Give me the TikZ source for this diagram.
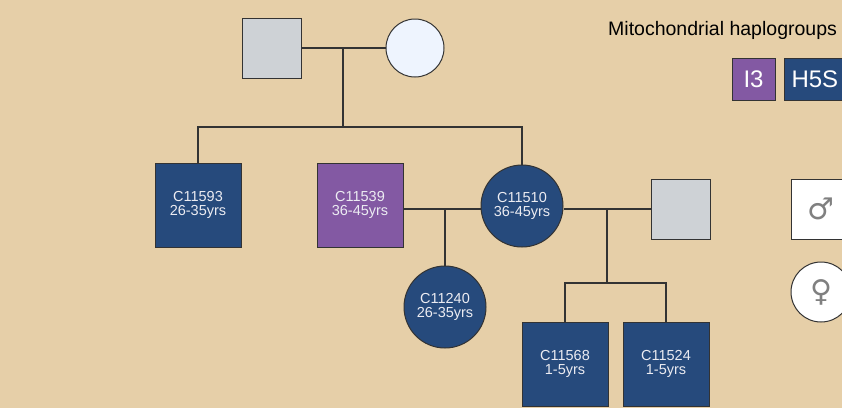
\documentclass[tikz,border=0pt]{standalone}
\usepackage{fontspec}
\setmainfont{Liberation Sans}
\newfontfamily\symfont{DejaVu Sans}
\usetikzlibrary{positioning}

\definecolor{paper}{HTML}{E6CFA8}
\definecolor{navy}{HTML}{264A7C}
\definecolor{plum}{HTML}{8359A3}
\definecolor{ash}{HTML}{CED2D6}
\definecolor{pale}{HTML}{EEF4FE}
\definecolor{edge}{HTML}{333333}
\definecolor{label}{HTML}{ECECF2}

\begin{document}
\begin{tikzpicture}[
  x=1pt, y=-1pt,
  male/.style={draw=edge,line width=1pt,minimum width=59pt,minimum height=60pt,inner sep=0pt},
  female/.style={draw=edge,line width=1pt,circle,minimum size=58pt,inner sep=0pt},
  kid/.style={draw=edge,line width=1pt,minimum width=86pt,minimum height=84pt,inner sep=0pt,
    fill=navy,text=label,align=center,font=\fontsize{14.5}{13.5}\selectfont},
  kidf/.style={kid,circle,minimum size=82pt},
  link/.style={draw=edge,line width=1.3pt},
  hbox/.style={draw=edge,line width=1pt,minimum width=43pt,minimum height=42pt,inner sep=0pt,
    text=white,font=\fontsize{24}{24}\selectfont}
]
\useasboundingbox (0,0) rectangle (842,408);
\fill[paper] (0,0) rectangle (842,408);
\clip (0,0) rectangle (842,408);

% first generation
\node[male,fill=ash] (m1) at (271.5,48) {};
\node[female,fill=pale] (f1) at (415,48) {};

% second generation
\node[kid] (c11593) at (198,205) {C11593\\26-35yrs};
\node[kid,fill=plum] (c11539) at (360,205) {C11539\\36-45yrs};
\node[kidf] (c11510) at (522,206) {C11510\\36-45yrs};
\node[male,fill=ash] (m2) at (680.5,209) {};

% third generation
\node[kidf] (c11240) at (445,307) {C11240\\26-35yrs};
\node[kid] (c11568) at (565,364) {C11568\\1-5yrs};
\node[kid] (c11524) at (666,364) {C11524\\1-5yrs};

% lines
\coordinate (u1) at (343,48);
\coordinate (sib1) at (343,127);
\draw[link] (m1) -- (f1);
\draw[link] (u1) -- (sib1);
\draw[link] (c11593.north) |- (sib1) -| (c11510.north);

\coordinate (u2) at (445,209);
\draw[link] (c11539.east |- u2) -- (c11510.west |- u2);
\draw[link] (u2) -- (c11240.north);

\coordinate (u3) at (607,209);
\coordinate (sib3) at (607,283);
\draw[link] (c11510.east |- u3) -- (m2.west);
\draw[link] (u3) -- (sib3);
\draw[link] (c11568.north) |- (sib3) -| (c11524.north);

% legend
\node[anchor=base west,inner sep=0pt,font=\fontsize{19.5}{20}\selectfont] (title) at (608,35) {Mitochondrial haplogroups};
\node[hbox,fill=plum] (i3) at (753.5,79) {I3};
\node[hbox,fill=navy,anchor=west,minimum width=70pt,text width=60pt,align=left] (h5s) at (784,79) {\hspace{2pt}H5S};
\node[male,fill=white,anchor=west] (msym) at (791,209) {\symfont\color{gray}\fontsize{30}{30}\selectfont ♂};
\node[female,fill=white,minimum size=60pt] (fsym) at (821,292) {\symfont\color{gray}\fontsize{30}{30}\selectfont ♀};
\end{tikzpicture}
\end{document}
